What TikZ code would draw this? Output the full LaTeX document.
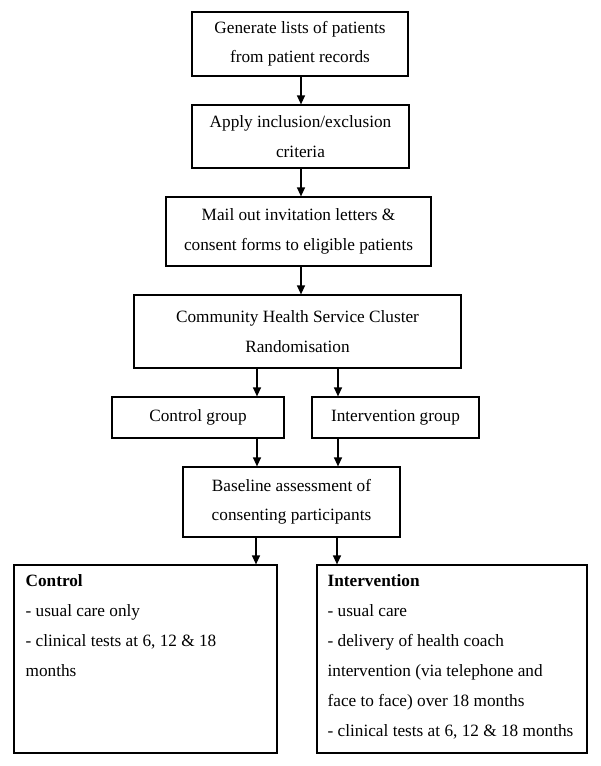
\documentclass[tikz,border=0pt]{standalone}
\usepackage{fontspec}
\setmainfont{Liberation Serif}
\usetikzlibrary{arrows.meta,calc}
\begin{document}
\begin{tikzpicture}[x=1pt,y=-1pt,
  box/.style={draw=black, line width=1.2pt, inner sep=0pt, align=center,
    font=\fontsize{17.25}{29.5}\selectfont},
  bigbox/.style={draw=black, line width=1.2pt, inner sep=0pt},
  txt/.style={inner sep=0pt, anchor=base west, align=flush left,
    font=\fontsize{17.25}{30}\selectfont},
  arr/.style={line width=1.2pt, -{Triangle[length=9pt,width=8pt]}}]
\useasboundingbox[fill=white] (0,0) rectangle (600,766);
\node[box, minimum width=216, minimum height=64] (b1) at (300,44)
  {Generate lists of patients\\from patient records};
\node[box, minimum width=217, minimum height=63] (b2) at (300.5,136.5)
  {Apply inclusion/exclusion\\criteria};
\node[box, minimum width=265, minimum height=69] (b3) at (298.5,231.5)
  {Mail out invitation letters \&\\consent forms to eligible patients};
\node[box, minimum width=327, minimum height=73] (b4) at (297.5,331.5)
  {Community Health Service Cluster\\Randomisation};
\node[box, minimum width=172, minimum height=41] (b5) at (198,417.5)
  {Control group};
\node[box, minimum width=167, minimum height=41] (b6) at (395.5,417.5)
  {Intervention group};
\node[box, minimum width=217, minimum height=70] (b7) at (291.5,502)
  {Baseline assessment of\\consenting participants};
\node[bigbox, minimum width=263, minimum height=188] (b8) at (145.5,659) {};
\node[bigbox, minimum width=270, minimum height=188] (b9) at (452,659) {};
\node[txt, text width=300pt] (t8) at ($(b8.north west)+(12,22)$)
  {\textbf{Control}\\- usual care only\\- clinical tests at 6, 12 \& 18\\months};
\node[txt, text width=300pt] (t9) at ($(b9.north west)+(11,22)$)
  {\textbf{Intervention}\\- usual care\\- delivery of health coach\\intervention (via telephone and\\face to face) over 18 months\\- clinical tests at 6, 12 \& 18 months};
\coordinate (xm) at (301,0);
\coordinate (xa) at (257,0);
\coordinate (xb) at (338,0);
\coordinate (xc) at (256,0);
\coordinate (xd) at (337,0);
\draw[arr] (b1.south -| xm) -- (b2.north -| xm);
\draw[arr] (b2.south -| xm) -- (b3.north -| xm);
\draw[arr] (b3.south -| xm) -- (b4.north -| xm);
\draw[arr] (b4.south -| xa) -- (b5.north -| xa);
\draw[arr] (b4.south -| xb) -- (b6.north -| xb);
\draw[arr] (b5.south -| xa) -- (b7.north -| xa);
\draw[arr] (b6.south -| xb) -- (b7.north -| xb);
\draw[arr] (b7.south -| xc) -- (b8.north -| xc);
\draw[arr] (b7.south -| xd) -- (b9.north -| xd);
\end{tikzpicture}
\end{document}
